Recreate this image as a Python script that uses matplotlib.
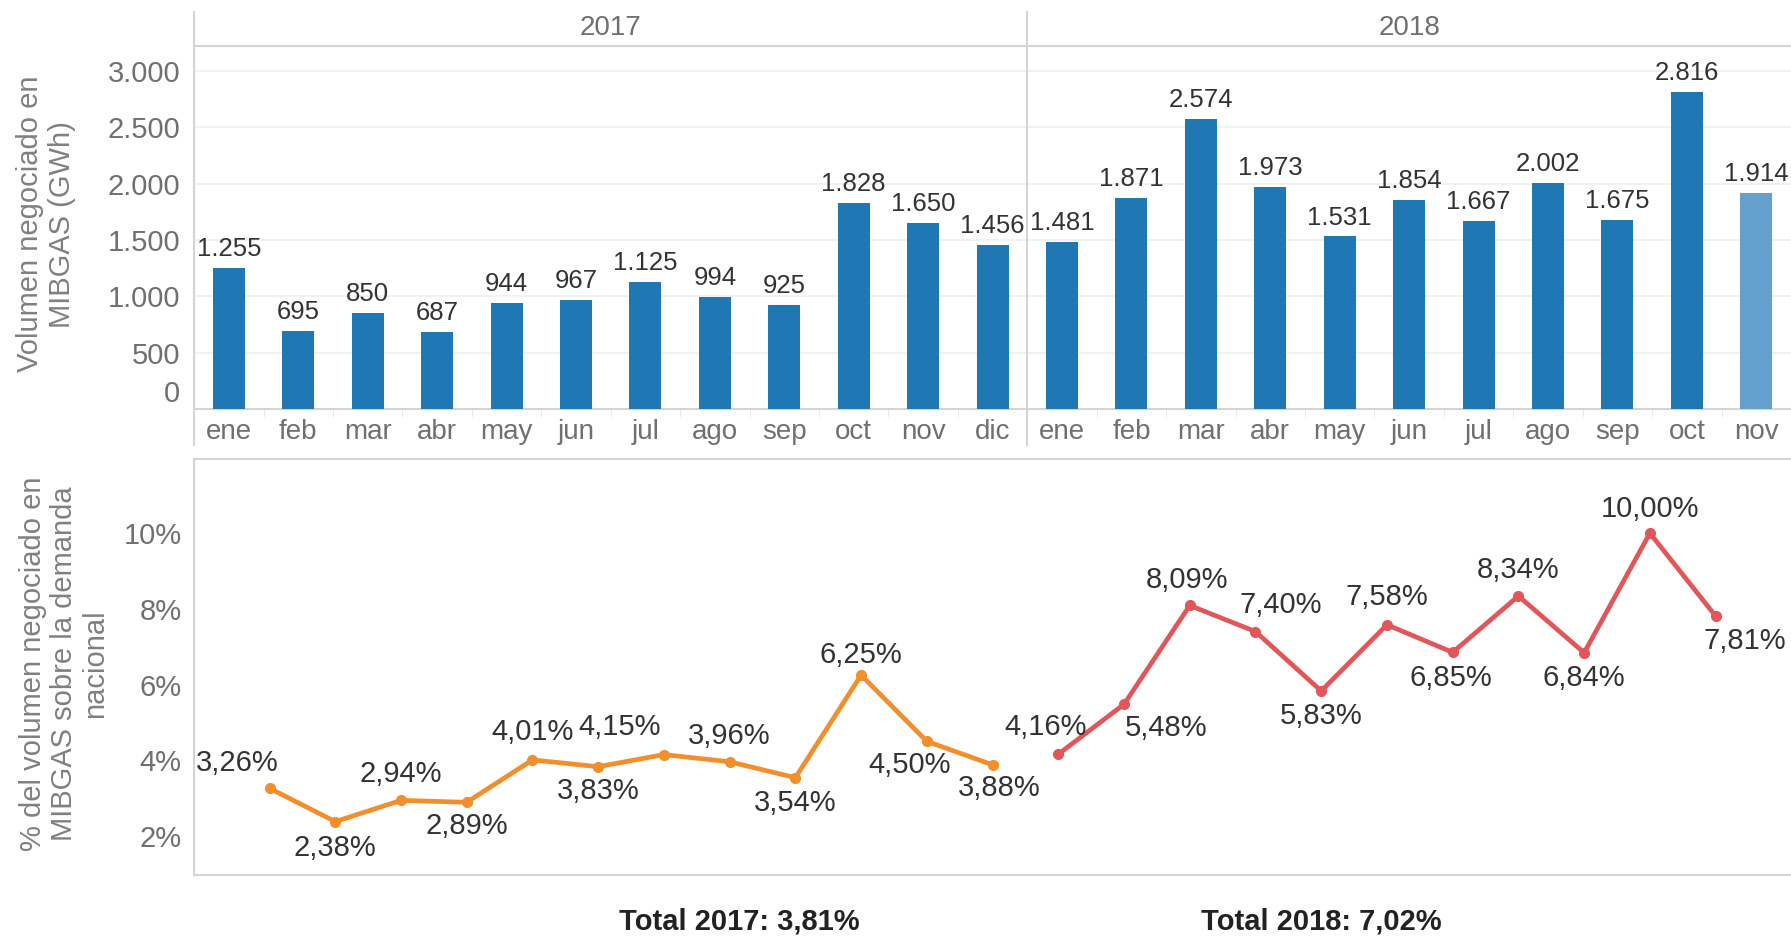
import numpy as np
import matplotlib
matplotlib.use('Agg')
import matplotlib.pyplot as plt
import matplotlib.transforms as mtransforms
from matplotlib.lines import Line2D

plt.rcParams['font.family'] = ['Liberation Sans', 'DejaVu Sans']

# data
months = ['ene', 'feb', 'mar', 'abr', 'may', 'jun', 'jul', 'ago', 'sep', 'oct', 'nov', 'dic']
years = ['2017', '2018']
vol_2017 = [1255, 695, 850, 687, 944, 967, 1125, 994, 925, 1828, 1650, 1456]
vol_2018 = [1481, 1871, 2574, 1973, 1531, 1854, 1667, 2002, 1675, 2816, 1914]
pct_2017 = [3.26, 2.38, 2.94, 2.89, 4.01, 3.83, 4.15, 3.96, 3.54, 6.25, 4.50, 3.88]
pct_2018 = [4.16, 5.48, 8.09, 7.40, 5.83, 7.58, 6.85, 8.34, 6.84, 10.00, 7.81]
totals = ['Total 2017: 3,81%', 'Total 2018: 7,02%']

# label nudges (px of the screen copy: dx, dy up)
off_2017 = [(-28, 22), (0, -23), (0, 23), (0, -21), (0, 24), (0, -21),
            (-39, 24), (0, 23), (0, -22), (0, 18), (-15, -21), (6, -20)]
off_2018 = [(-11, 24), (37, -21), (-2, 22), (22, 23), (0, -22), (0, 24),
            (-2, -22), (0, 23), (0, -22), (0, 21), (26, -22)]

BLUE = '#1f77b4'
BLUE_LIGHT = '#63a0cb'
ORANGE = '#f28e2b'
RED = '#e15759'
TXT = '#333333'
GREY = '#707070'
LINE = '#d4d4d4'

fig = plt.figure(figsize=(17.91, 9.38), dpi=100)
ax1 = fig.add_axes([0.1084, 0.564, 0.8916, 0.387])
ax2 = fig.add_axes([0.1084, 0.0672, 0.8916, 0.4435])

# --- top: bars
vols = vol_2017 + vol_2018
labels = months + months[:len(vol_2018)]
x = np.arange(len(vols))
colors = [BLUE] * (len(vols) - 1) + [BLUE_LIGHT]
ax1.bar(x, vols, width=0.46, color=colors, zorder=3)
for xi, v in zip(x, vols):
    ax1.annotate('{:,}'.format(v).replace(',', '.'), (xi, v), xytext=(0, 5),
                 textcoords='offset points', ha='center', va='bottom',
                 fontsize=18.5, color=TXT)
ax1.set_xlim(-0.5, len(vols) - 0.5)
ax1.set_ylim(0, 3222)
ax1.set_yticks(np.arange(0, 3001, 500))
ax1.set_yticklabels(['{:,}'.format(t).replace(',', '.') for t in range(0, 3001, 500)])
ax1.set_xticks(x)
ax1.set_xticklabels(labels)
ax1.set_xticks(np.arange(-0.5, len(vols), 1), minor=True)
ax1.tick_params(axis='x', which='major', length=0, pad=7, labelsize=20, labelcolor=GREY)
for t in ax1.get_xticklabels():
    t.set_family(['Liberation Sans Narrow', 'Liberation Sans'])
ax1.tick_params(axis='x', which='minor', length=6, color='#e6e6e6')
ax1.tick_params(axis='y', length=0, pad=10, labelsize=21, labelcolor=GREY)
zero_lbl = ax1.get_yticklabels()[0]
zero_lbl.set_transform(zero_lbl.get_transform() +
                       mtransforms.ScaledTranslation(0, 0.18, fig.dpi_scale_trans))
ax1.grid(axis='y', color='#efefef', lw=1.2, zorder=0)
for s in ['left', 'right']:
    ax1.spines[s].set_visible(False)
ax1.spines['top'].set_color(LINE)
ax1.spines['top'].set_linewidth(1.5)
ax1.spines['bottom'].set_color(LINE)
ax1.spines['bottom'].set_linewidth(1.5)

trans = mtransforms.blended_transform_factory(ax1.transData, ax1.transAxes)
n17 = len(vol_2017)
for xv in [-0.5, n17 - 0.5]:
    ax1.add_line(Line2D([xv, xv], [-0.1, 1.094], transform=trans, color=LINE,
                        lw=1.5, clip_on=False))
centers = [(-0.5 + n17 - 0.5) / 2, (n17 - 0.5 + len(vols) - 0.5) / 2]
for c, yr in zip(centers, years):
    ax1.text(c, 1.05, yr, transform=trans, ha='center', va='center',
             fontsize=20, color=GREY, family=['Liberation Sans Narrow', 'Liberation Sans'])

fig.text(0.0257, 0.761, 'Volumen negociado en\nMIBGAS (GWh)', rotation=90,
         ha='center', va='center', fontsize=21, color='#808080', linespacing=1.15)

# --- bottom: lines
x17 = np.arange(len(pct_2017))
x18 = np.arange(len(pct_2018)) + len(pct_2017)
ax2.plot(x17, pct_2017, color=ORANGE, lw=3.4, marker='o', ms=7, zorder=3)
ax2.plot(x18, pct_2018, color=RED, lw=3.4, marker='o', ms=7, zorder=3)
k = 0.822
for xs, ys, offs in [(x17, pct_2017, off_2017), (x18, pct_2018, off_2018)]:
    for xi, v, (dx, dy) in zip(xs, ys, offs):
        ax2.annotate('{:.2f}%'.format(v).replace('.', ','), (xi, v),
                     xytext=(dx * k, dy * k), textcoords='offset points',
                     ha='center', va='center', fontsize=21, color=TXT)
ax2.set_xlim(-1.147, 23.147)
ax2.set_ylim(0.97, 11.96)
ax2.set_xticks([])
ax2.set_yticks([2, 4, 6, 8, 10])
ax2.set_yticklabels(['{}%'.format(t) for t in [2, 4, 6, 8, 10]])
ax2.tick_params(axis='y', length=0, pad=9, labelsize=21, labelcolor=GREY)
ax2.spines['right'].set_visible(False)
for s in ['left', 'top', 'bottom']:
    ax2.spines[s].set_color(LINE)
    ax2.spines[s].set_linewidth(1.5)

fig.text(0.0357, 0.292, '% del volumen negociado en\nMIBGAS sobre la demanda\nnacional',
         rotation=90, ha='center', va='center', fontsize=21, color='#808080',
         linespacing=1.15)

fig.text(0.4127, 0.018, totals[0], ha='center', va='center', fontsize=21,
         fontweight='bold', color='#222222')
fig.text(0.738, 0.018, totals[1], ha='center', va='center', fontsize=21,
         fontweight='bold', color='#222222')

fig.savefig('out.png', dpi=100)
